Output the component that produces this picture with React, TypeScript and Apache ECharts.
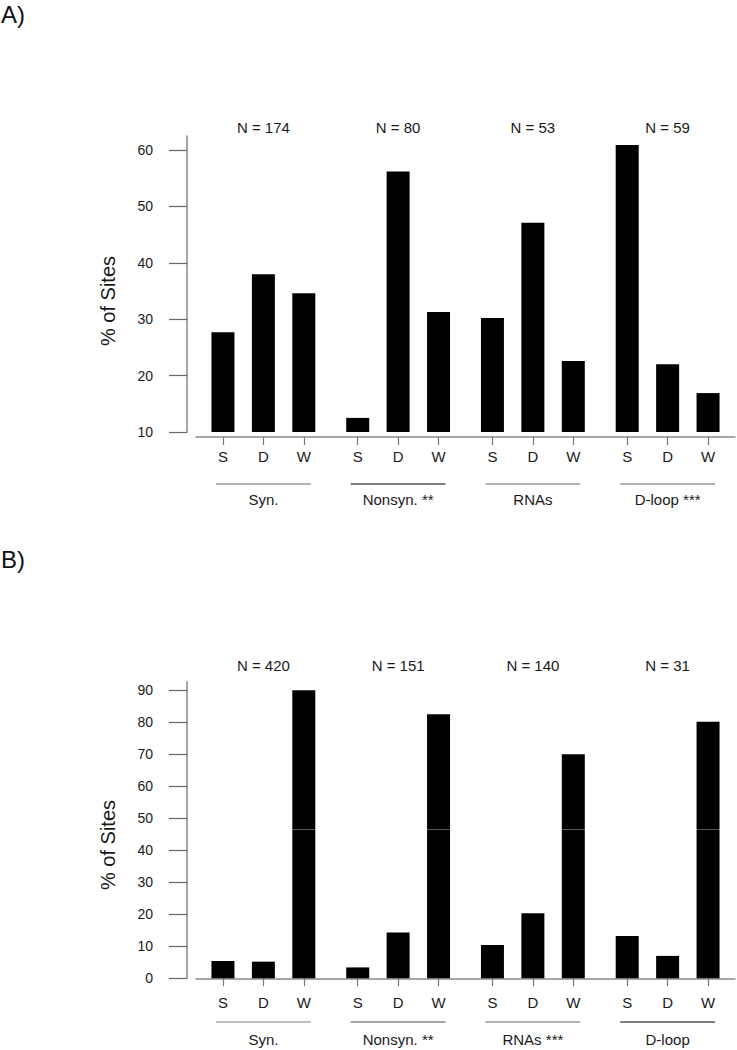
import React, { useEffect, useRef } from 'react';
import * as echarts from 'echarts';

// ---------- data ----------
const subTypes = ['S', 'D', 'W'];
const groupsA = ['Syn.', 'Nonsyn. **', 'RNAs', 'D-loop ***'];
const groupsB = ['Syn.', 'Nonsyn. **', 'RNAs ***', 'D-loop'];
const nLabelsA = ['N = 174', 'N = 80', 'N = 53', 'N = 59'];
const nLabelsB = ['N = 420', 'N = 151', 'N = 140', 'N = 31'];
// order: Syn S,D,W | Nonsyn S,D,W | RNAs S,D,W | D-loop S,D,W
const valuesA = [27.7, 38.0, 34.6, 12.5, 56.2, 31.3, 30.2, 47.1, 22.6, 60.9, 22.0, 16.9];
const valuesB = [5.4, 5.2, 90.0, 3.4, 14.3, 82.5, 10.4, 20.3, 70.0, 13.2, 7.0, 80.2];
const yTicksA = [10, 20, 30, 40, 50, 60];
const yTicksB = [0, 10, 20, 30, 40, 50, 60, 70, 80, 90];
const yRangeA = [10, 62.5];
const yRangeB = [0, 92.7];
const panelLabels = ['A)', 'B)'];
const yTitle = '% of Sites';
const scanLineB = 46.7; // faint light line visible across the tall bars in panel B

// ---------- layout / style ----------
const FONT = '"Liberation Sans", Arial, sans-serif';
const LEAD = 2;
const SUB_STEP = 3;
const GROUP_STEP = 10;
const SLOT_COUNT = 41;
const slotOf = (g: number, j: number) => LEAD + g * GROUP_STEP + j * SUB_STEP;
const lineColorsA = ['#9a9a9a', '#555555', '#9a9a9a', '#9a9a9a'];
const lineColorsB = ['#aaaaaa', '#888888', '#999999', '#555555'];

const buildSlots = () => {
  const names: string[] = [];
  for (let i = 0; i < SLOT_COUNT; i++) names.push('_' + i);
  for (let g = 0; g < 4; g++) {
    subTypes.forEach((s, j) => {
      names[slotOf(g, j)] = g + ':' + s;
    });
  }
  return names;
};
const slots = buildSlots();
const isBarSlot = (idx: number) => !slots[idx].startsWith('_');
const isMidSlot = (idx: number) => isBarSlot(idx) && slots[idx].endsWith(':D');

const barData = (vals: number[]) =>
  vals.map((v, k) => [slotOf(Math.floor(k / 3), k % 3), v]);

const groupRender = (groups: string[], colors: string[]) => (params: any, api: any) => {
  const g = api.value(0);
  const xS = api.coord([slotOf(g, 0), 1])[0];
  const xW = api.coord([slotOf(g, 2), 1])[0];
  const top = api.coord([slotOf(g, 1), 1]);
  const bot = api.coord([slotOf(g, 1), 0]);
  const ext = api.size([1, 0])[0] * 0.52;
  return {
    type: 'group',
    children: [
      {
        type: 'line',
        shape: { x1: xS - ext, y1: top[1], x2: xW + ext, y2: top[1] },
        style: { stroke: colors[g], lineWidth: 1.5 },
      },
      {
        type: 'text',
        x: bot[0],
        y: bot[1],
        style: {
          text: groups[g],
          align: 'center',
          verticalAlign: 'middle',
          font: '15px ' + FONT,
          fill: '#1a1a1a',
        },
      },
    ],
  };
};

const mainX = (gridIndex: number) => ({
  type: 'category',
  gridIndex,
  data: slots,
  boundaryGap: false,
  position: 'bottom',
  offset: 5,
  axisLine: { show: true, lineStyle: { color: '#8a8a8a', width: 1.5 } },
  axisTick: {
    show: true,
    length: 8,
    interval: (idx: number) => isBarSlot(idx),
    lineStyle: { color: '#777', width: 1.2 },
  },
  axisLabel: {
    show: true,
    interval: (idx: number) => isBarSlot(idx),
    formatter: (v: string) => (v.startsWith('_') ? '' : v.split(':')[1]),
    margin: 12,
    fontSize: 15,
    lineHeight: 15,
    fontFamily: FONT,
    color: '#1a1a1a',
  },
  splitLine: { show: false },
});

const topX = (gridIndex: number, labels: string[], margin: number) => ({
  type: 'category',
  gridIndex,
  data: slots,
  boundaryGap: false,
  position: 'top',
  axisLine: { show: false },
  axisTick: { show: false },
  axisLabel: {
    show: true,
    interval: (idx: number) => isMidSlot(idx),
    formatter: (v: string) => (isMidSlot(slots.indexOf(v)) ? labels[Number(v.split(':')[0])] : ''),
    margin,
    fontSize: 15,
    lineHeight: 15,
    fontFamily: FONT,
    color: '#1a1a1a',
  },
  splitLine: { show: false },
});

const hiddenX = (gridIndex: number) => ({
  type: 'category',
  gridIndex,
  data: slots,
  boundaryGap: false,
  show: false,
});

const mainY = (gridIndex: number, range: number[], ticks: number[]) => ({
  type: 'value',
  gridIndex,
  min: range[0],
  max: range[1],
  interval: 10,
  offset: 9,
  axisLine: { show: true, lineStyle: { color: '#8a8a8a', width: 1.5 } },
  axisTick: { show: true, length: 18, customValues: ticks, lineStyle: { color: '#666', width: 1.2 } },
  axisLabel: {
    show: true,
    customValues: ticks,
    margin: 34,
    fontSize: 14,
    fontFamily: FONT,
    color: '#1a1a1a',
  },
  splitLine: { show: false },
});

const hiddenY = (gridIndex: number) => ({
  type: 'value',
  gridIndex,
  min: 0,
  max: 1,
  show: false,
});

export default function App() {
  const ref = useRef<HTMLDivElement>(null);

  useEffect(() => {
    if (!ref.current) return;
    const chart = echarts.init(ref.current, undefined, { renderer: 'svg' });
    const option: any = {
      animation: false,
      backgroundColor: '#ffffff',
      textStyle: { fontFamily: FONT },
      grid: [
        { left: 196, width: 539, top: 136, height: 296 },
        { left: 196, width: 539, top: 484, height: 15 },
        { left: 196, width: 539, top: 681.7, height: 296.6 },
        { left: 196, width: 539, top: 1022, height: 17 },
      ],
      xAxis: [
        mainX(0),
        topX(0, nLabelsA, 1),
        hiddenX(1),
        mainX(2),
        topX(2, nLabelsB, 9),
        hiddenX(3),
      ],
      yAxis: [mainY(0, yRangeA, yTicksA), hiddenY(1), mainY(2, yRangeB, yTicksB), hiddenY(3)],
      series: [
        {
          type: 'bar',
          xAxisIndex: 0,
          yAxisIndex: 0,
          data: barData(valuesA),
          barWidth: 23,
          itemStyle: { color: '#000000' },
        },
        {
          type: 'custom',
          xAxisIndex: 2,
          yAxisIndex: 1,
          data: groupsA.map((_, g) => [g, 0]),
          renderItem: groupRender(groupsA, lineColorsA),
        },
        {
          type: 'bar',
          xAxisIndex: 3,
          yAxisIndex: 2,
          data: barData(valuesB),
          barWidth: 23,
          itemStyle: { color: '#000000' },
          markLine: {
            silent: true,
            symbol: ['none', 'none'],
            label: { show: false },
            lineStyle: { color: 'rgba(255,255,255,0.35)', width: 1, type: 'solid' },
            data: [{ yAxis: scanLineB }],
          },
        },
        {
          type: 'custom',
          xAxisIndex: 5,
          yAxisIndex: 3,
          data: groupsB.map((_, g) => [g, 0]),
          renderItem: groupRender(groupsB, lineColorsB),
        },
      ],
      graphic: [
        {
          type: 'text',
          x: 1,
          y: 14,
          style: { text: panelLabels[0], font: '24px ' + FONT, fill: '#111', verticalAlign: 'middle' },
        },
        {
          type: 'text',
          x: 1,
          y: 559,
          style: { text: panelLabels[1], font: '24px ' + FONT, fill: '#111', verticalAlign: 'middle' },
        },
        {
          type: 'text',
          x: 108,
          y: 301,
          rotation: Math.PI / 2,
          style: { text: yTitle, font: '20px ' + FONT, fill: '#1a1a1a', align: 'center', verticalAlign: 'middle' },
        },
        {
          type: 'text',
          x: 108,
          y: 845,
          rotation: Math.PI / 2,
          style: { text: yTitle, font: '20px ' + FONT, fill: '#1a1a1a', align: 'center', verticalAlign: 'middle' },
        },
      ],
    };
    chart.setOption(option);
    return () => chart.dispose();
  }, []);

  return (
    <div
      ref={ref}
      style={{ position: 'absolute', left: 0, top: 0, width: 737, height: 1050, background: '#fff' }}
    />
  );
}
